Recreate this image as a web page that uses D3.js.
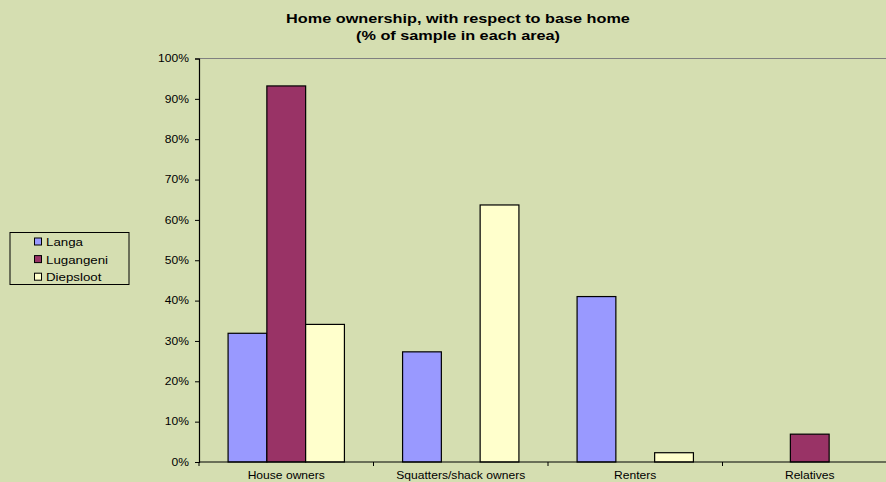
<!DOCTYPE html>
<html>
<head>
<meta charset="utf-8">
<script src="https://cdn.jsdelivr.net/npm/d3@7"></script>
<style>
  html, body { margin: 0; padding: 0; background: #D5DEB1; }
  svg { display: block; font-family: "Liberation Sans", Arial, sans-serif; }
</style>
</head>
<body>
<svg id="chart" width="886" height="482"></svg>
<script>
// Home ownership by area (share of sample)
const categories = ["House owners", "Squatters/shack owners", "Renters", "Relatives"];
const seriesNames = ["Langa", "Lugangeni", "Diepsloot"];
const langa = [0.319, 0.273, 0.410, 0];
const lugangeni = [0.932, 0, 0, 0.069];
const diepsloot = [0.341, 0.637, 0.023, 0];
const yTicks = [0, 0.1, 0.2, 0.3, 0.4, 0.5, 0.6, 0.7, 0.8, 0.9, 1.0];
const colors = ["#9999FF", "#993366", "#FFFFCC"];

const seriesValues = [langa, lugangeni, diepsloot];

// the chart's lettering is set in a horizontally widened face
const STRETCH = 1.21;

const svg = d3.select("#chart");
const W = 886, H = 482;

svg.append("rect").attr("width", W).attr("height", H).attr("fill", "#D5DEB1");

const plot = { left: 199, top: 58.5, right: 897, bottom: 462 };

const x = d3.scaleBand()
  .domain(categories)
  .range([plot.left, plot.right])
  .paddingInner(0)
  .paddingOuter(0);

const x1 = d3.scaleBand()
  .domain(seriesNames)
  .range([0, x.bandwidth()])
  .paddingOuter(0.75)
  .paddingInner(0);

const y = d3.scaleLinear().domain([0, 1]).range([plot.bottom, plot.top]);

// plot-area frame (top edge)
svg.append("line")
  .attr("x1", plot.left).attr("x2", W)
  .attr("y1", plot.top).attr("y2", plot.top)
  .attr("stroke", "#808080").attr("stroke-width", 1);

// bars
const groups = svg.append("g").selectAll("g")
  .data(categories)
  .join("g")
  .attr("transform", d => `translate(${x(d)},0)`);

groups.selectAll("rect")
  .data((c, i) => seriesNames.map((s, j) => ({ s, j, v: seriesValues[j][i] })).filter(d => d.v > 0))
  .join("rect")
  .attr("x", d => x1(d.s))
  .attr("width", x1.bandwidth())
  .attr("y", d => y(d.v))
  .attr("height", d => y(0) - y(d.v))
  .attr("fill", d => colors[d.j])
  .attr("stroke", "#000")
  .attr("stroke-width", 1.2);

// y axis
const yAxis = d3.axisLeft(y)
  .tickValues(yTicks)
  .tickFormat(d3.format(".0%"))
  .tickSize(4)
  .tickPadding(6);

const gy = svg.append("g")
  .attr("transform", `translate(${plot.left},0)`)
  .call(yAxis);
gy.select(".domain").attr("stroke", "#000").attr("stroke-width", 1.2);
gy.selectAll(".tick line").attr("stroke", "#000");
gy.selectAll(".tick text")
  .attr("font-size", 10).attr("fill", "#000")
  .attr("font-family", "Liberation Sans, Arial, sans-serif")
  .attr("x", 0)
  .attr("transform", `translate(-10,0) scale(${STRETCH},1)`);

// x axis
const xAxis = d3.axisBottom(x).tickSize(0).tickPadding(9.5);
const gx = svg.append("g")
  .attr("transform", `translate(0,${plot.bottom})`)
  .call(xAxis);
gx.select(".domain").remove();
gx.append("line")
  .attr("x1", plot.left).attr("x2", W)
  .attr("y1", 0).attr("y2", 0)
  .attr("stroke", "#000").attr("stroke-width", 1.2);
gx.selectAll(".tick text")
  .attr("font-size", 10).attr("fill", "#000")
  .attr("font-family", "Liberation Sans, Arial, sans-serif")
  .attr("transform", `scale(${STRETCH},1)`);
// category separators
gx.selectAll(".sep")
  .data(categories)
  .join("line")
  .attr("class", "sep")
  .attr("x1", d => x(d)).attr("x2", d => x(d))
  .attr("y1", 0).attr("y2", 4)
  .attr("stroke", "#000");

// title
const title = svg.append("g").attr("transform", `translate(458,0) scale(1.25,1)`);
title.append("text")
  .attr("x", 0).attr("y", 23.5)
  .attr("text-anchor", "middle")
  .attr("font-size", 13).attr("font-weight", "bold").attr("fill", "#000")
  .text("Home ownership, with respect to base home");
title.append("text")
  .attr("x", 0).attr("y", 40)
  .attr("text-anchor", "middle")
  .attr("font-size", 13).attr("font-weight", "bold").attr("fill", "#000")
  .text("(% of sample in each area)");

// legend
const legend = svg.append("g").attr("transform", "translate(10,232.5)");
legend.append("rect")
  .attr("width", 119).attr("height", 52)
  .attr("fill", "#D5DEB1").attr("stroke", "#000").attr("stroke-width", 1);
const items = legend.selectAll("g.item")
  .data(seriesNames)
  .join("g")
  .attr("class", "item")
  .attr("transform", (d, i) => `translate(24.5,${5.5 + i * 17.6})`);
items.append("rect")
  .attr("width", 7).attr("height", 7)
  .attr("fill", (d, i) => colors[i])
  .attr("stroke", "#000").attr("stroke-width", 1);
items.append("text")
  .attr("x", 0).attr("y", 0)
  .attr("transform", `translate(11.5,8) scale(${STRETCH},1)`)
  .attr("font-size", 11).attr("fill", "#000")
  .text(d => d);
</script>
</body>
</html>
